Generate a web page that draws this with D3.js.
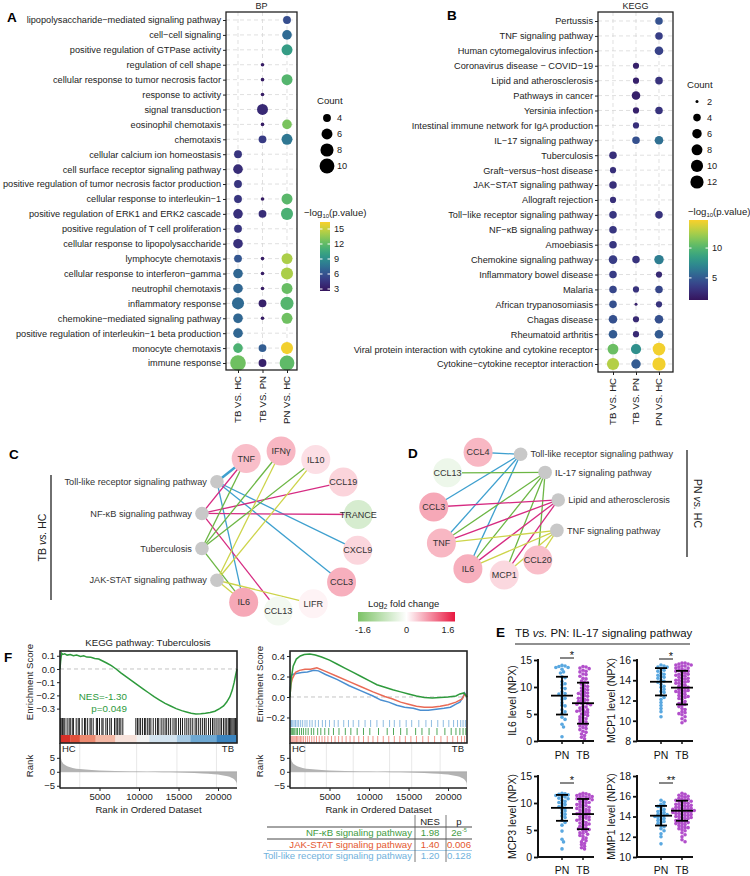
<!DOCTYPE html>
<html>
<head>
<meta charset="utf-8">
<script src="https://cdn.jsdelivr.net/npm/d3@7"></script>
<style>
  body { margin: 0; background: #fff; }
  svg { display: block; font-family: "Liberation Sans", Arial, Helvetica, sans-serif; }
</style>
</head>
<body>
<div id="fig"></div>
<script>
// Figure size
var svgWidth = 750;
var svgHeight = 876;

// ---------------- A: GO BP dot plot ----------------
var comparisons = ["TB VS. HC", "TB VS. PN", "PN VS. HC"];
var bpTerms = [
  "lipopolysaccharide\u2212mediated signaling pathway",
  "cell\u2212cell signaling",
  "positive regulation of GTPase activity",
  "regulation of cell shape",
  "cellular response to tumor necrosis factor",
  "response to activity",
  "signal transduction",
  "eosinophil chemotaxis",
  "chemotaxis",
  "cellular calcium ion homeostasis",
  "cell surface receptor signaling pathway",
  "positive regulation of tumor necrosis factor production",
  "cellular response to interleukin\u22121",
  "positive regulation of ERK1 and ERK2 cascade",
  "positive regulation of T cell proliferation",
  "cellular response to lipopolysaccharide",
  "lymphocyte chemotaxis",
  "cellular response to interferon\u2212gamma",
  "neutrophil chemotaxis",
  "inflammatory response",
  "chemokine\u2212mediated signaling pathway",
  "positive regulation of interleukin\u22121 beta production",
  "monocyte chemotaxis",
  "immune response"
];
var bpCountTBHC = [null, null, null, null, null, null, null, null, null, 4, 5, 4, 4, 5, 4, 5, 4, 5, 5, 7, 5, 5, 5, 11];
var bpCountTBPN = [null, null, null, 3, 3, 3, 6, 3, 4, null, null, null, 3, 4, null, null, 3, 3, 3, 4, 3, null, 4, 4];
var bpCountPNHC = [4, 5, 6, null, 6, null, null, 5, 6, null, null, null, 6, 7, null, null, 6, 7, 6, 8, 6, null, 7, 10];
var bpLogpTBHC = [null, null, null, null, null, null, null, null, null, 4.5, 4.0, 4.5, 4.5, 4.2, 4.5, 4.2, 6.2, 7.0, 7.0, 7.2, 7.0, 7.0, 11.3, 12.5];
var bpLogpTBPN = [null, null, null, 3.0, 3.0, 3.0, 3.8, 3.0, 4.8, null, null, null, 3.0, 4.0, null, null, 3.0, 3.0, 3.0, 3.3, 3.0, null, 6.6, 3.3];
var bpLogpPNHC = [5.8, 7.2, 9.8, null, 11.6, null, null, 12.8, 7.8, null, null, null, 11.8, 11.2, null, null, 14.2, 14.2, 12.3, 11.6, 12.5, null, 16.2, 12.0];
var bpSizeLegend = [4, 6, 8, 10];
var bpColorTicks = [3, 6, 9, 12, 15];

// ---------------- B: KEGG dot plot ----------------
var keggTerms = [
  "Pertussis",
  "TNF signaling pathway",
  "Human cytomegalovirus infection",
  "Coronavirus disease \u2212 COVID\u221219",
  "Lipid and atherosclerosis",
  "Pathways in cancer",
  "Yersinia infection",
  "Intestinal immune network for IgA production",
  "IL\u221217 signaling pathway",
  "Tuberculosis",
  "Graft\u2212versus\u2212host disease",
  "JAK\u2212STAT signaling pathway",
  "Allograft rejection",
  "Toll\u2212like receptor signaling pathway",
  "NF\u2212\u03baB signaling pathway",
  "Amoebiasis",
  "Chemokine signaling pathway",
  "Inflammatory bowel disease",
  "Malaria",
  "African trypanosomiasis",
  "Chagas disease",
  "Rheumatoid arthritis",
  "Viral protein interaction with cytokine and cytokine receptor",
  "Cytokine\u2212cytokine receptor interaction"
];
var keggCountTBHC = [null, null, null, null, null, null, null, null, null, 4, 3, 4, 3, 4, 4, 4, 5, 4, 4, 4, 5, 5, 8, 10];
var keggCountTBPN = [null, null, null, 3, 3, 5, 3, 3, 4, null, null, null, null, null, null, null, 4, null, 3, 2, 3, 3, 7, 6];
var keggCountPNHC = [4, 4, 5, null, 4, null, 4, null, 5, null, null, null, null, 4, null, null, 6, 3, 4, 3, 5, 5, 11, 12];
var keggLogpTBHC = [null, null, null, null, null, null, null, null, null, 2.8, 2.8, 2.8, 2.8, 3.2, 3.2, 3.2, 3.5, 3.5, 4.0, 4.5, 4.5, 5.0, 10.8, 12.8];
var keggLogpTBPN = [null, null, null, 2.0, 2.0, 2.0, 2.0, 2.8, 4.5, null, null, null, null, null, null, null, 3.0, null, 3.0, 2.0, 2.5, 2.5, 7.6, 5.0];
var keggLogpPNHC = [4.6, 3.6, 3.8, null, 3.0, null, 3.0, null, 6.0, null, null, null, null, 3.0, null, null, 6.7, 2.5, 4.0, 3.0, 4.5, 5.0, 14.5, 14.5];
var keggSizeLegend = [2, 4, 6, 8, 10, 12];
var keggColorTicks = [5, 10];

// ---------------- C / D: pathway-gene networks ----------------
var cGenes = ["TNF", "IFN\u03b3", "IL10", "CCL19", "TRANCE", "CXCL9", "CCL3", "LIFR", "CCL13", "IL6"];
var cGeneFC = [0.45, 0.5, 0.22, 0.3, -0.5, 0.28, 0.55, 0.08, -0.15, 0.6];
var cPathways = ["JAK-STAT signaling pathway", "Tuberculosis", "NF-\u03baB signaling pathway", "Toll-like receptor signaling pathway"];
var cEdges = [
  ["Toll-like receptor signaling pathway", "TNF"], ["Toll-like receptor signaling pathway", "IL6"],
  ["Toll-like receptor signaling pathway", "CXCL9"], ["Toll-like receptor signaling pathway", "CCL3"],
  ["NF-\u03baB signaling pathway", "TNF"], ["NF-\u03baB signaling pathway", "CCL19"],
  ["NF-\u03baB signaling pathway", "TRANCE"], ["NF-\u03baB signaling pathway", "CCL13"],
  ["Tuberculosis", "TNF"], ["Tuberculosis", "IFN\u03b3"], ["Tuberculosis", "IL10"], ["Tuberculosis", "IL6"],
  ["JAK-STAT signaling pathway", "IFN\u03b3"], ["JAK-STAT signaling pathway", "IL10"],
  ["JAK-STAT signaling pathway", "LIFR"], ["JAK-STAT signaling pathway", "IL6"]
];
var dGenes = ["CCL20", "MCP1", "IL6", "TNF", "CCL3", "CCL13", "CCL4"];
var dGeneFC = [0.45, 0.27, 0.55, 0.5, 0.6, -0.22, 0.5];
var dPathways = ["Toll-like receptor signaling pathway", "IL-17 signaling pathway", "Lipid and atherosclerosis", "TNF signaling pathway"];
var dEdges = [
  ["Toll-like receptor signaling pathway", "CCL4"], ["Toll-like receptor signaling pathway", "CCL3"],
  ["Toll-like receptor signaling pathway", "TNF"], ["Toll-like receptor signaling pathway", "IL6"],
  ["IL-17 signaling pathway", "CCL13"], ["IL-17 signaling pathway", "TNF"], ["IL-17 signaling pathway", "IL6"],
  ["IL-17 signaling pathway", "MCP1"], ["IL-17 signaling pathway", "CCL20"],
  ["Lipid and atherosclerosis", "CCL3"], ["Lipid and atherosclerosis", "TNF"],
  ["Lipid and atherosclerosis", "IL6"], ["Lipid and atherosclerosis", "MCP1"],
  ["TNF signaling pathway", "TNF"], ["TNF signaling pathway", "IL6"],
  ["TNF signaling pathway", "MCP1"], ["TNF signaling pathway", "CCL20"]
];
var fcTicks = [-1.6, 0, 1.6];

// ---------------- F: GSEA ----------------
var totalGenes = 22400;
var rankPos = [0, 60, 150, 300, 600, 1000, 1600, 2500, 4000, 6000, 8000, 10000, 12000, 14000, 16000, 18000, 19500, 20500, 21200, 21700, 22000, 22200, 22350, 22400];
var rankMetric = [9.5, 6.0, 4.5, 3.4, 2.5, 1.9, 1.4, 1.0, 0.65, 0.4, 0.22, 0.08, -0.05, -0.18, -0.35, -0.6, -0.9, -1.2, -1.6, -2.1, -2.6, -3.2, -4.0, -5.5];

var tbEsRank = [0, 80, 200, 350, 600, 900, 1300, 1700, 2100, 2600, 3000, 3400, 3900, 4400, 4900, 5400, 5900, 6500, 7100, 7700, 8400, 9100, 9800, 10500, 11200, 11900, 12600, 13300, 14000, 14700, 15400, 16000, 16600, 17200, 17800, 18400, 19000, 19600, 20200, 20700, 21100, 21500, 21800, 22050, 22250, 22400];
var tbEsVal = [0, 0.06, 0.12, 0.11, 0.115, 0.105, 0.11, 0.1, 0.105, 0.095, 0.1, 0.09, 0.088, 0.08, 0.075, 0.06, 0.045, 0.025, 0.0, -0.03, -0.06, -0.09, -0.12, -0.15, -0.18, -0.21, -0.235, -0.26, -0.28, -0.3, -0.315, -0.325, -0.335, -0.34, -0.338, -0.335, -0.33, -0.32, -0.3, -0.28, -0.25, -0.21, -0.16, -0.1, -0.04, 0];
var tbHits = [60, 150, 310, 480, 620, 900, 1150, 1300, 1550, 1700, 2050, 2300, 2450, 2800, 3100, 3250, 3500, 3800, 3950, 4200, 4600, 4750, 5000, 5300, 5450, 5800, 6000, 6300, 6500, 6900, 7100, 7300, 7500, 7700, 7950, 9600, 9800, 10000, 10200, 10450, 10700, 10850, 11100, 11300, 11500, 11800, 12100, 12350, 12500, 12800, 13050, 13300, 13500, 13750, 14000, 14300, 14550, 14700, 15000, 15250, 15500, 15800, 16050, 16300, 16550, 16800, 17100, 17300, 17550, 17800, 18050, 18300, 18500, 18800, 19050, 19300, 19500, 19750, 20000, 20250, 20450, 20700, 20900, 21100, 21300, 21450, 21600, 21750, 21900, 22050, 22200, 22300];
var tbBinEdges = [0, 1300, 2500, 4500, 7000, 9700, 11300, 14800, 16500, 19800, 22400];
var tbBinColors = ["#d62f27", "#e0503a", "#ec8a70", "#f4b9a6", "#f7e3dc", "#f2f2f2", "#d3e3ef", "#a7c9e2", "#6ea8d2", "#3a83be"];
var tbRankGrid = [2500, 9700, 14800, 19800];

var nfkbEsRank = [0, 150, 400, 800, 1300, 1800, 2500, 3200, 4000, 5000, 6000, 7000, 8000, 9000, 10000, 11000, 12000, 13000, 14000, 15000, 16000, 17000, 18000, 19000, 20000, 21000, 21500, 22000, 22400];
var nfkbEsVal = [0, 0.18, 0.3, 0.37, 0.4, 0.415, 0.42, 0.41, 0.39, 0.36, 0.32, 0.28, 0.24, 0.2, 0.16, 0.12, 0.095, 0.07, 0.05, 0.03, 0.01, -0.005, -0.01, -0.005, 0.0, 0.01, 0.03, 0.04, 0];
var jakEsRank = [0, 100, 300, 700, 1200, 1900, 2600, 3400, 4500, 6000, 7500, 9000, 10500, 12000, 13000, 14000, 15000, 16000, 17000, 18000, 19000, 20000, 21000, 21800, 22100, 22400];
var jakEsVal = [0, 0.12, 0.18, 0.24, 0.26, 0.27, 0.27, 0.285, 0.25, 0.2, 0.15, 0.1, 0.05, 0.005, -0.02, -0.05, -0.07, -0.09, -0.1, -0.1, -0.09, -0.075, -0.05, -0.02, 0.03, 0];
var tollEsRank = [0, 100, 300, 800, 1500, 2200, 3000, 3600, 4500, 6000, 7500, 9000, 10500, 11500, 12500, 13500, 14500, 15600, 16500, 17500, 18500, 19500, 20300, 21000, 21500, 21900, 22100, 22400];
var tollEsVal = [0, 0.2, 0.22, 0.23, 0.24, 0.245, 0.26, 0.255, 0.22, 0.17, 0.11, 0.06, 0.01, -0.03, -0.05, -0.08, -0.1, -0.11, -0.13, -0.13, -0.12, -0.11, -0.1, -0.07, -0.05, 0.0, 0.04, 0];
var tollHits = [80, 200, 350, 520, 700, 900, 1100, 1350, 1600, 1900, 2150, 2500, 2800, 3200, 3600, 4100, 4500, 5000, 5600, 6100, 6800, 7400, 8000, 8700, 9500, 10200, 11000, 11800, 12600, 13200, 13900, 14700, 15400, 16300, 17200, 17900, 18700, 19400, 20100, 20700, 21200, 21600, 21900, 22200];
var nfkbHits = [50, 160, 300, 420, 600, 780, 950, 1200, 1450, 1700, 2000, 2300, 2700, 3000, 3500, 3900, 4400, 4900, 5500, 6200, 7000, 7700, 8500, 9300, 10100, 11200, 12300, 13100, 14000, 14800, 15900, 16700, 17600, 18600, 19600, 20400, 21000, 21500, 21900, 22250];
var jakHits = [40, 130, 260, 380, 520, 660, 820, 980, 1150, 1320, 1500, 1700, 1950, 2200, 2450, 2750, 3050, 3350, 3700, 4050, 4400, 4800, 5250, 5700, 6150, 6600, 7100, 7600, 8100, 8700, 9300, 9900, 10500, 11100, 11800, 12500, 13200, 13900, 14600, 15300, 16000, 16800, 17500, 18300, 19100, 19900, 20600, 21200, 21700, 22100];
var multiRankGrid = [1900, 4600, 8000, 12600, 15400, 19000];

var gseaTableNames = ["NF-\u03baB signaling pathway", "JAK-STAT signaling pathway", "Toll-like receptor signaling pathway"];
var gseaTableNES = ["1.98", "1.40", "1.20"];
var gseaTableP = ["2e", "0.006", "0.128"];

// ---------------- E: scatter with mean +/- SD ----------------
var groups = ["PN", "TB"];
var il6PN = [14.0, 13.9, 13.8, 13.6, 13.6, 13.3, 12.8, 12.6, 11.9, 11.7, 11.0, 10.6, 10.4, 9.8, 9.7, 9.1, 8.8, 8.7, 8.2, 7.9, 7.7, 7.1, 6.6, 6.5, 5.8, 5.4, 5.1, 4.4, 4.0, 3.1, 2.6, 0.8];
var il6TB = [13.8, 13.7, 13.5, 13.4, 13.1, 12.9, 12.8, 12.4, 12.3, 12.0, 11.6, 11.5, 11.1, 10.9, 10.8, 10.5, 10.2, 10.1, 9.8, 9.6, 9.5, 9.2, 9.0, 8.9, 8.6, 8.4, 8.3, 8.0, 7.9, 7.6, 7.5, 7.3, 7.1, 7.0, 6.8, 6.7, 6.4, 6.3, 6.1, 5.9, 5.8, 5.6, 5.4, 5.3, 5.0, 4.9, 4.7, 4.5, 4.3, 4.1, 4.0, 3.7, 3.5, 3.4, 3.1, 2.9, 2.8, 2.5, 2.3, 2.1, 1.8, 1.6, 1.3, 1.0, 0.7, 0.4, 6.9, 7.7, 5.5, 8.8];
var mcp1PN = [15.5, 15.4, 15.3, 15.3, 15.1, 15.0, 14.9, 14.7, 14.6, 14.4, 14.3, 14.2, 14.0, 13.9, 13.8, 13.6, 13.4, 13.3, 13.1, 12.9, 12.8, 12.5, 12.3, 12.1, 11.8, 11.5, 11.2, 10.9, 10.4, 14.5];
var mcp1TB = [15.7, 15.7, 15.6, 15.6, 15.5, 15.5, 15.4, 15.3, 15.2, 15.2, 15.1, 15.0, 14.9, 14.9, 14.8, 14.7, 14.6, 14.5, 14.5, 14.4, 14.3, 14.2, 14.1, 14.0, 13.9, 13.9, 13.8, 13.7, 13.6, 13.5, 13.4, 13.3, 13.2, 13.1, 13.0, 12.9, 12.8, 12.7, 12.6, 12.5, 12.4, 12.3, 12.2, 12.1, 11.9, 11.8, 11.7, 11.5, 11.4, 11.2, 11.1, 10.9, 10.8, 10.6, 10.4, 10.2, 10.0, 9.8, 15.4, 15.0, 14.6, 14.2, 13.7, 13.3, 12.9, 12.4, 11.6, 10.7, 13.0, 14.0];
var mcp3PN = [11.8, 11.7, 11.6, 11.5, 11.4, 11.2, 11.1, 10.9, 10.8, 10.5, 10.3, 10.1, 9.9, 9.7, 9.4, 9.3, 9.0, 8.8, 8.5, 8.2, 7.9, 7.6, 7.3, 6.8, 6.4, 5.9, 4.8, 3.3, 2.8, 1.5];
var mcp3TB = [11.8, 11.7, 11.6, 11.5, 11.4, 11.3, 11.1, 11.0, 10.9, 10.8, 10.6, 10.5, 10.3, 10.1, 10.0, 9.8, 9.7, 9.5, 9.3, 9.2, 9.0, 8.8, 8.7, 8.5, 8.3, 8.2, 8.0, 7.8, 7.7, 7.5, 7.3, 7.2, 7.0, 6.8, 6.6, 6.4, 6.3, 6.1, 5.9, 5.7, 5.5, 5.3, 5.1, 4.9, 4.7, 4.5, 4.2, 4.0, 3.8, 3.5, 3.3, 3.0, 2.8, 2.5, 2.3, 2.0, 1.7, 1.5, 11.2, 10.7, 10.2, 9.6, 9.1, 8.6, 8.1, 7.4, 6.9, 6.0, 5.2, 4.4];
var mmp1PN = [15.6, 15.4, 15.2, 15.1, 15.0, 14.9, 14.7, 14.6, 14.5, 14.4, 14.3, 14.2, 14.1, 14.0, 14.0, 13.9, 13.8, 13.7, 13.6, 13.5, 13.4, 13.3, 13.1, 13.0, 12.8, 12.6, 12.3, 12.0, 11.3, 14.2];
var mmp1TB = [16.3, 16.2, 16.1, 16.0, 15.9, 15.8, 15.7, 15.6, 15.6, 15.5, 15.4, 15.3, 15.2, 15.2, 15.1, 15.0, 14.9, 14.9, 14.8, 14.7, 14.7, 14.6, 14.5, 14.5, 14.4, 14.3, 14.3, 14.2, 14.1, 14.0, 14.0, 13.9, 13.8, 13.7, 13.6, 13.5, 13.4, 13.3, 13.2, 13.1, 13.0, 12.9, 12.8, 12.6, 12.4, 12.2, 12.0, 11.7, 11.5, 15.7, 15.3, 15.0, 14.8, 14.6, 14.4, 14.2, 13.9, 13.6, 13.3, 12.7, 16.0, 15.5, 15.1, 14.7, 14.4, 14.1, 13.8, 13.4, 12.9, 14.6];
// mean and SD per group [PN, TB]
var il6Mean = [8.4, 7.0], il6Sd = [3.5, 3.8];
var mcp1Mean = [13.85, 13.27], mcp1Sd = [1.35, 1.66];
var mcp3Mean = [9.1, 7.95], mcp3Sd = [2.4, 2.8];
var mmp1Mean = [14.08, 14.57], mmp1Sd = [0.97, 0.99];

// ================= drawing =================
var svg = d3.select("#fig").append("svg")
  .attr("width", svgWidth)
  .attr("height", svgHeight);

var dotPalette = d3.interpolateRgbBasis(["#35155c", "#3b3b8b", "#2f6b96", "#2b9a8c", "#52b86b", "#a8d24a", "#f9d02b"]);
var defs = svg.append("defs");

function panelLetter(t, x, y) {
  svg.append("text").attr("x", x).attr("y", y)
    .attr("font-size", 13.5).attr("font-weight", "bold").attr("fill", "#000").text(t);
}

function dotPlot(cfg) {
  var g = svg.append("g");
  var y = d3.scalePoint().domain(cfg.terms).range([cfg.rowTop, cfg.rowBottom]);
  var x = d3.scalePoint().domain(comparisons).range([cfg.colLeft, cfg.colRight]);
  var color = d3.scaleSequential(dotPalette).domain(cfg.colorDomain);
  var size = d3.scaleSqrt().domain([0, cfg.countDomain[1] - cfg.countDomain[0]]).range(cfg.radius);
  var rad = function(c) { return size(c - cfg.countDomain[0]); };
  var L = cfg.box[0], R = cfg.box[1], T = cfg.box[2], B = cfg.box[3];

  // dashed grid
  g.selectAll(".hg").data(cfg.terms).enter().append("line")
    .attr("x1", L).attr("x2", R).attr("y1", d => y(d)).attr("y2", d => y(d))
    .attr("stroke", "#d2d2d2").attr("stroke-width", 0.7).attr("stroke-dasharray", "4,3");
  g.selectAll(".vg").data(comparisons).enter().append("line")
    .attr("y1", T).attr("y2", B).attr("x1", d => x(d)).attr("x2", d => x(d))
    .attr("stroke", "#d2d2d2").attr("stroke-width", 0.7).attr("stroke-dasharray", "4,3");

  var pts = [];
  cfg.terms.forEach(function(t, i) {
    cfg.counts.forEach(function(arr, j) {
      if (arr[i] != null) pts.push({ term: t, comp: comparisons[j], count: arr[i], logp: cfg.logp[j][i] });
    });
  });
  g.selectAll("circle.dot").data(pts).enter().append("circle")
    .attr("class", "dot")
    .attr("cx", d => x(d.comp)).attr("cy", d => y(d.term))
    .attr("r", d => rad(d.count))
    .attr("fill", d => color(d.logp));

  g.append("rect").attr("x", L).attr("y", T).attr("width", R - L).attr("height", B - T)
    .attr("fill", "none").attr("stroke", "#222").attr("stroke-width", 1.3);

  // y axis labels
  var ya = g.append("g").attr("transform", `translate(${L},0)`)
    .call(d3.axisLeft(y).tickSize(3).tickPadding(2));
  ya.select(".domain").remove();
  ya.attr("font-family", null).attr("font-size", 9.2).style("color", "#222");

  // x axis rotated labels
  var xa = g.append("g").attr("transform", `translate(0,${B})`)
    .call(d3.axisBottom(x).tickSize(3).tickFormat(""));
  xa.select(".domain").remove();
  xa.style("color", "#222");
  g.selectAll(".xl").data(comparisons).enter().append("text")
    .attr("transform", d => `translate(${x(d) + 3.4},${B + 6}) rotate(-90)`)
    .attr("text-anchor", "end").attr("font-size", 9.6).attr("fill", "#222").text(d => d);

  g.append("text").attr("x", (L + R) / 2).attr("y", T - 3.5).attr("text-anchor", "middle")
    .attr("font-size", 9).attr("fill", "#222").text(cfg.title);

  // size legend
  var sl = cfg.sizeLegend;
  g.append("text").attr("x", sl.x - 10).attr("y", sl.titleY).attr("font-size", 9.6).attr("fill", "#222").text("Count");
  var ly = d3.scalePoint().domain(sl.values).range([sl.y0, sl.y1]);
  g.selectAll(".lc").data(sl.values).enter().append("circle")
    .attr("cx", sl.x).attr("cy", d => ly(d)).attr("r", d => rad(d)).attr("fill", "#000");
  g.selectAll(".lt").data(sl.values).enter().append("text")
    .attr("x", sl.x + 10).attr("y", d => ly(d) + 3.3).attr("font-size", 9.2).attr("fill", "#222").text(d => d);

  // colour bar
  var cb = cfg.colorBar;
  var gid = "grad" + cfg.title;
  var grad = defs.append("linearGradient").attr("id", gid).attr("x1", 0).attr("x2", 0).attr("y1", 1).attr("y2", 0);
  d3.range(0, 1.0001, 0.05).forEach(function(t) {
    grad.append("stop").attr("offset", t).attr("stop-color", dotPalette(t));
  });
  var ct = g.append("text").attr("x", cb.titleX).attr("y", cb.titleY).attr("font-size", 9.6).attr("fill", "#222");
  ct.append("tspan").text("\u2212log");
  ct.append("tspan").attr("font-size", 6).attr("dy", 2).text("10");
  ct.append("tspan").attr("dy", -2).text("(p.value)");
  g.append("rect").attr("x", cb.x).attr("y", cb.y0).attr("width", cb.w).attr("height", cb.y1 - cb.y0)
    .attr("fill", `url(#${gid})`);
  var cy = d3.scaleLinear().domain(cfg.colorDomain).range([cb.y1, cb.y0]);
  g.selectAll(".ctk").data(cb.ticks).enter().append("line")
    .attr("x1", cb.x).attr("x2", cb.x + 2.5).attr("y1", d => cy(d)).attr("y2", d => cy(d)).attr("stroke", "#fff");
  g.selectAll(".ctk2").data(cb.ticks).enter().append("line")
    .attr("x1", cb.x + cb.w - 2.5).attr("x2", cb.x + cb.w).attr("y1", d => cy(d)).attr("y2", d => cy(d)).attr("stroke", "#fff");
  g.selectAll(".ctl").data(cb.ticks).enter().append("text")
    .attr("x", cb.x + cb.w + 4).attr("y", d => cy(d) + 3.3).attr("font-size", 9.2).attr("fill", "#222").text(d => d);
}

// ---- A ----
panelLetter("A", 7, 22);
dotPlot({
  title: "BP", terms: bpTerms,
  counts: [bpCountTBHC, bpCountTBPN, bpCountPNHC], logp: [bpLogpTBHC, bpLogpTBPN, bpLogpPNHC],
  rowTop: 20, rowBottom: 363, colLeft: 238, colRight: 287,
  box: [226, 297, 12, 370],
  colorDomain: [2.6, 16.4], countDomain: [3, 11], radius: [1.8, 7.8],
  sizeLegend: { x: 327, titleY: 104, y0: 118, y1: 166, values: bpSizeLegend },
  colorBar: { titleX: 304, titleY: 216, x: 320, w: 10, y0: 222, y1: 291, ticks: bpColorTicks }
});

// ---- B ----
panelLetter("B", 447, 20);
dotPlot({
  title: "KEGG", terms: keggTerms,
  counts: [keggCountTBHC, keggCountTBPN, keggCountPNHC], logp: [keggLogpTBHC, keggLogpTBPN, keggLogpPNHC],
  rowTop: 21, rowBottom: 364, colLeft: 613, colRight: 659,
  box: [598, 673, 12, 372],
  colorDomain: [1.3, 14.7], countDomain: [2, 12], radius: [1.5, 6.6],
  sizeLegend: { x: 697, titleY: 88, y0: 101.5, y1: 182, values: keggSizeLegend },
  colorBar: { titleX: 688, titleY: 215, x: 689, w: 19, y0: 220, y1: 300, ticks: keggColorTicks }
});

// ---------------- networks ----------------
var fcColor = d3.scaleLinear().domain([-1.6, 0, 1.6]).range(["#7cc266", "#ffffff", "#e8173f"]);
var edgeColorC = {
  "Toll-like receptor signaling pathway": "#3fa0cf", "NF-\u03baB signaling pathway": "#d62b82",
  "Tuberculosis": "#6cb644", "JAK-STAT signaling pathway": "#cdd44a"
};
var edgeColorD = {
  "Toll-like receptor signaling pathway": "#3fa0cf", "IL-17 signaling pathway": "#6cb644",
  "Lipid and atherosclerosis": "#d62b82", "TNF signaling pathway": "#cdd44a"
};

function network(cfg) {
  var g = svg.append("g");
  var geneAngle = d3.scaleLinear().domain([0, cfg.genes.length - 1]).range(cfg.geneArc);
  var pathAngle = d3.scaleLinear().domain([0, cfg.pathways.length - 1]).range(cfg.pathArc);
  var pos = {};
  function polar(a) {
    var rad = a * Math.PI / 180;
    return [cfg.center[0] + cfg.radius * Math.cos(rad), cfg.center[1] + cfg.radius * Math.sin(rad)];
  }
  cfg.genes.forEach((n, i) => { pos[n] = polar(geneAngle(i)); });
  cfg.pathways.forEach((n, i) => { pos[n] = polar(pathAngle(i)); });

  g.selectAll(".edge").data(cfg.edges).enter().append("line")
    .attr("x1", d => pos[d[0]][0]).attr("y1", d => pos[d[0]][1])
    .attr("x2", d => pos[d[1]][0]).attr("y2", d => pos[d[1]][1])
    .attr("stroke", d => cfg.edgeColor[d[0]])
    .attr("stroke-width", d => (d[0] === "Toll-like receptor signaling pathway" && d[1] === "TNF" && cfg.thickToll) ? 2.4 : 1.3);

  g.selectAll(".gn").data(cfg.genes).enter().append("circle")
    .attr("cx", d => pos[d][0]).attr("cy", d => pos[d][1]).attr("r", 14.5)
    .attr("fill", (d, i) => fcColor(cfg.fc[i]));
  g.selectAll(".gl").data(cfg.genes).enter().append("text")
    .attr("x", d => pos[d][0]).attr("y", d => pos[d][1] + 3.2).attr("text-anchor", "middle")
    .attr("font-size", 9).attr("fill", "#333").text(d => d);

  g.selectAll(".pn").data(cfg.pathways).enter().append("circle")
    .attr("cx", d => pos[d][0]).attr("cy", d => pos[d][1]).attr("r", 6.8).attr("fill", "#c8c8c8");
  g.selectAll(".pl").data(cfg.pathways).enter().append("text")
    .attr("x", d => pos[d][0] + cfg.labelSide * 10).attr("y", d => pos[d][1] + 3.2)
    .attr("text-anchor", cfg.labelSide < 0 ? "end" : "start")
    .attr("font-size", 9.2).attr("fill", "#333").text(d => d);

  // group bracket and label
  g.append("line").attr("x1", cfg.bracketX).attr("x2", cfg.bracketX)
    .attr("y1", cfg.bracketY[0]).attr("y2", cfg.bracketY[1]).attr("stroke", "#222").attr("stroke-width", 1.3);
  var lab = g.append("text").attr("text-anchor", "middle").attr("font-size", 10.5).attr("fill", "#222")
    .attr("transform", `translate(${cfg.groupLabelX},${(cfg.bracketY[0] + cfg.bracketY[1]) / 2}) rotate(${cfg.groupRotate})`);
  lab.append("tspan").text(cfg.groupLabel[0] + " ");
  lab.append("tspan").attr("font-style", "italic").text("vs.");
  lab.append("tspan").text(" " + cfg.groupLabel[1]);
}

panelLetter("C", 9, 459);
network({
  genes: cGenes, fc: cGeneFC, pathways: cPathways, edges: cEdges, edgeColor: edgeColorC,
  center: [280, 531], radius: 80, geneArc: [-115, 117], pathArc: [142, 218],
  labelSide: -1, thickToll: true,
  bracketX: 51, bracketY: [475, 600], groupLabelX: 46, groupRotate: -90, groupLabel: ["TB", "HC"]
});

panelLetter("D", 408, 458);
network({
  genes: dGenes, fc: dGeneFC, pathways: dPathways, edges: dEdges, edgeColor: edgeColorD,
  center: [496.5, 512.5], radius: 63, geneArc: [49, 253], pathArc: [-67.5, 16.5],
  labelSide: 1, thickToll: false,
  bracketX: 687, bracketY: [450, 557], groupLabelX: 694, groupRotate: 90, groupLabel: ["PN", "HC"]
});

// log2 fold change legend
(function() {
  var g = svg.append("g");
  var lx = d3.scaleLinear().domain([-1.6, 1.6]).range([358, 455]);
  var grad = defs.append("linearGradient").attr("id", "fcgrad");
  d3.range(-1.6, 1.6001, 0.2).forEach(function(v) {
    grad.append("stop").attr("offset", (v + 1.6) / 3.2).attr("stop-color", fcColor(v));
  });
  var t = g.append("text").attr("x", 368).attr("y", 607).attr("font-size", 9.5).attr("fill", "#222");
  t.append("tspan").text("Log");
  t.append("tspan").attr("font-size", 6.5).attr("dy", 2).text("2");
  t.append("tspan").attr("dy", -2).text(" fold change");
  g.append("rect").attr("x", lx(-1.6)).attr("y", 612).attr("width", lx(1.6) - lx(-1.6)).attr("height", 9.5)
    .attr("fill", "url(#fcgrad)");
  g.selectAll(".ft").data(fcTicks).enter().append("text")
    .attr("x", d => lx(d) + (d < 0 ? 5 : d > 0 ? -7 : 0)).attr("y", 633).attr("text-anchor", "middle")
    .attr("font-size", 9.2).attr("fill", "#222").text(d => d === 0 ? "0" : d);
})();

// ---------------- F: GSEA ----------------
function gsea(cfg) {
  var g = svg.append("g");
  var x = d3.scaleLinear().domain([0, totalGenes]).range([cfg.x0, cfg.x1]);
  var yES = d3.scaleLinear().domain(cfg.esDomain).range([718, 651]);
  var yRank = d3.scaleLinear().domain([-5.8, 10.3]).range([788, 743]);

  // rank metric panel
  g.selectAll(".rg").data(cfg.rankGrid).enter().append("line")
    .attr("x1", d => x(d)).attr("x2", d => x(d)).attr("y1", 744).attr("y2", 788)
    .attr("stroke", "#e2e2e2").attr("stroke-width", 0.8);
  var area = d3.area().x((d, i) => x(rankPos[i])).y0(yRank(0)).y1(d => yRank(d)).curve(d3.curveMonotoneX);
  g.append("path").datum(rankMetric).attr("d", area).attr("fill", "#b3b3b3");
  g.append("line").attr("x1", cfg.x0).attr("x2", cfg.x1).attr("y1", yRank(0)).attr("y2", yRank(0))
    .attr("stroke", "#a0a0a0").attr("stroke-width", 0.6);
  var ra = g.append("g").attr("transform", `translate(${cfg.x0},0)`)
    .call(d3.axisLeft(yRank).tickValues([-5, 0, 5]).tickSize(3).tickPadding(2));
  ra.select(".domain").remove();
  ra.attr("font-family", null).attr("font-size", 9.5).style("color", "#222");
  g.append("line").attr("x1", cfg.x0).attr("x2", cfg.x0).attr("y1", 743).attr("y2", 788.5).attr("stroke", "#222").attr("stroke-width", 1.5);
  var xa = g.append("g").attr("transform", "translate(0,788)")
    .call(d3.axisBottom(x).tickValues([5000, 10000, 15000, 20000]).tickSize(3).tickPadding(2).tickFormat(d3.format("d")));
  xa.select(".domain").remove();
  xa.attr("font-family", null).attr("font-size", 9.5).style("color", "#222");
  g.append("line").attr("x1", cfg.x0).attr("x2", cfg.x1).attr("y1", 788).attr("y2", 788).attr("stroke", "#222").attr("stroke-width", 1.5);
  g.append("text").attr("x", (cfg.x0 + cfg.x1) / 2).attr("y", 813).attr("text-anchor", "middle")
    .attr("font-size", 9.6).attr("fill", "#222").text("Rank in Ordered Dataset");
  g.append("text").attr("transform", `translate(${cfg.x0 - 27},766) rotate(-90)`).attr("text-anchor", "middle")
    .attr("font-size", 9.6).attr("fill", "#222").text("Rank");
  g.append("text").attr("x", cfg.x0 + 2).attr("y", 752).attr("font-size", 9.5).attr("fill", "#222").text("HC");
  g.append("text").attr("x", cfg.x1 - 3).attr("y", 752).attr("text-anchor", "end").attr("font-size", 9.5).attr("fill", "#222").text("TB");

  // colour bins / hits
  if (cfg.bins) {
    g.selectAll(".bin").data(cfg.bins.colors).enter().append("rect")
      .attr("x", (d, i) => x(cfg.bins.edges[i])).attr("width", (d, i) => x(cfg.bins.edges[i + 1]) - x(cfg.bins.edges[i]) + 0.3)
      .attr("y", 735).attr("height", 8).attr("fill", d => d);
  }
  cfg.hits.forEach(function(h) {
    g.selectAll(null).data(h.ranks).enter().append("line")
      .attr("x1", d => x(d)).attr("x2", d => x(d)).attr("y1", h.y[0]).attr("y2", h.y[1])
      .attr("stroke", h.color).attr("stroke-width", h.width);
  });

  // ES curves
  g.append("line").attr("x1", cfg.x0).attr("x2", cfg.x1).attr("y1", yES(0)).attr("y2", yES(0))
    .attr("stroke", "#bdbdbd").attr("stroke-dasharray", "4,3").attr("stroke-width", 0.9);
  cfg.curves.forEach(function(c) {
    var line = d3.line().x((d, i) => x(c.rank[i])).y(d => yES(d));
    g.append("path").datum(c.es).attr("d", line).attr("fill", "none").attr("stroke", c.color).attr("stroke-width", 1.5);
  });
  var ea = g.append("g").attr("transform", `translate(${cfg.x0},0)`)
    .call(d3.axisLeft(yES).tickValues(cfg.esTicks).tickSize(3).tickPadding(2).tickFormat(d3.format(".1f")));
  ea.select(".domain").remove();
  ea.attr("font-family", null).attr("font-size", 9.5).style("color", "#222");
  g.append("text").attr("transform", `translate(${cfg.x0 - 27},${cfg.esLabelY}) rotate(-90)`).attr("text-anchor", "middle")
    .attr("font-size", 9.6).attr("fill", "#222").text("Enrichment Score");

  g.append("rect").attr("x", cfg.x0).attr("y", 651).attr("width", cfg.x1 - cfg.x0).attr("height", 92)
    .attr("fill", "none").attr("stroke", "#222").attr("stroke-width", 1.6);
  return g;
}

panelLetter("F", 4, 662);
var gLeft = gsea({
  x0: 60, x1: 237, esDomain: [-0.371, 0.136], esTicks: [-0.3, -0.2, -0.1, 0, 0.1], esLabelY: 682,
  rankGrid: tbRankGrid,
  bins: { edges: tbBinEdges, colors: tbBinColors },
  hits: [{ ranks: tbHits, y: [718, 735], color: "#000", width: 0.9 }],
  curves: [{ rank: tbEsRank, es: tbEsVal, color: "#2e9a3c" }]
});
gLeft.append("text").attr("x", 148).attr("y", 646).attr("text-anchor", "middle")
  .attr("font-size", 9.6).attr("fill", "#222").text("KEGG pathway: Tuberculosis");
gLeft.append("text").attr("x", 127).attr("y", 700).attr("text-anchor", "end")
  .attr("font-size", 9.8).attr("fill", "#2e9a3c").text("NES=-1.30");
gLeft.append("text").attr("x", 127).attr("y", 712).attr("text-anchor", "end")
  .attr("font-size", 9.8).attr("fill", "#2e9a3c").text("p=0.049");

gsea({
  x0: 290, x1: 467, esDomain: [-0.205, 0.449], esTicks: [-0.2, 0, 0.2, 0.4], esLabelY: 684,
  rankGrid: multiRankGrid, bins: null,
  hits: [
    { ranks: tollHits, y: [720, 727], color: "#83b6df", width: 0.9 },
    { ranks: nfkbHits, y: [728, 735], color: "#3e9e48", width: 0.9 },
    { ranks: jakHits, y: [736, 743], color: "#ef8b7e", width: 0.9 }
  ],
  curves: [
    { rank: tollEsRank, es: tollEsVal, color: "#4a8ed0" },
    { rank: jakEsRank, es: jakEsVal, color: "#e96b56" },
    { rank: nfkbEsRank, es: nfkbEsVal, color: "#2e9a3c" }
  ]
});

// GSEA table
(function() {
  var g = svg.append("g");
  var tableColors = ["#3f9b3f", "#e4572e", "#6fb1dc"];
  var rowY = d3.scalePoint().domain(gseaTableNames).range([836, 859]);
  g.append("text").attr("x", 430).attr("y", 825).attr("text-anchor", "middle").attr("font-size", 9.6).attr("fill", "#222").text("NES");
  g.append("text").attr("x", 459).attr("y", 825).attr("text-anchor", "middle").attr("font-size", 9.6).attr("fill", "#222").text("p");
  [[827, "#333"], [839, "#333"], [850.5, "#9cc7e6"]].forEach(function(l) {
    g.append("line").attr("x1", 267).attr("x2", 472).attr("y1", l[0]).attr("y2", l[0]).attr("stroke", l[1]).attr("stroke-width", 0.9);
  });
  [415, 446].forEach(function(vx) {
    g.append("line").attr("x1", vx).attr("x2", vx).attr("y1", 815).attr("y2", 862).attr("stroke", "#555").attr("stroke-width", 0.8);
  });
  gseaTableNames.forEach(function(n, i) {
    var yy = rowY(n);
    g.append("text").attr("x", 412).attr("y", yy).attr("text-anchor", "end").attr("font-size", 9.6).attr("fill", tableColors[i]).text(n);
    g.append("text").attr("x", 430).attr("y", yy).attr("text-anchor", "middle").attr("font-size", 9.6).attr("fill", tableColors[i]).text(gseaTableNES[i]);
    var pt = g.append("text").attr("x", 459).attr("y", yy).attr("text-anchor", "middle").attr("font-size", 9.6).attr("fill", tableColors[i]);
    pt.append("tspan").text(gseaTableP[i]);
    if (i === 0) pt.append("tspan").attr("font-size", 5.5).attr("dy", -4).text("-5");
  });
})();

// ---------------- E ----------------
panelLetter("E", 496, 637);
(function() {
  var t = svg.append("text").attr("x", 515).attr("y", 637).attr("font-size", 11.4).attr("fill", "#111");
  t.append("tspan").text("TB ");
  t.append("tspan").attr("font-style", "italic").text("vs.");
  t.append("tspan").text(" PN: IL-17 signaling pathway");
  svg.append("line").attr("x1", 515).attr("x2", 690).attr("y1", 644).attr("y2", 644).attr("stroke", "#222").attr("stroke-width", 1.2);
})();

function swarm(vals, y, cx, r) {
  var placed = [];
  return vals.slice().sort(d3.descending).map(function(v) {
    var py = y(v), px = cx;
    for (var k = 0; k < 80; k++) {
      px = cx + (k % 2 ? 1 : -1) * Math.ceil(k / 2) * r * 0.85;
      var hit = placed.some(p => (p[0] - px) * (p[0] - px) + (p[1] - py) * (p[1] - py) < (r * 1.5) * (r * 1.5));
      if (!hit) break;
    }
    placed.push([px, py]);
    return [px, py];
  });
}

function scatterPlot(cfg) {
  var g = svg.append("g");
  var x = d3.scalePoint().domain(groups).range(cfg.xRange);
  var y = d3.scaleLinear().domain(cfg.domain).range([cfg.yBottom, cfg.yTop]);
  var r = 1.8;
  var cols = ["#5aa8e0", "#b24fcb"];
  [cfg.pn, cfg.tb].forEach(function(vals, gi) {
    var pts = swarm(vals, y, x(groups[gi]), r);
    g.selectAll(null).data(pts).enter().append("circle")
      .attr("cx", d => d[0]).attr("cy", d => d[1]).attr("r", r).attr("fill", cols[gi]);
  });
  // mean +/- SD
  groups.forEach(function(gr, i) {
    var cx = x(gr), m = cfg.mean[i], s = cfg.sd[i];
    g.append("line").attr("x1", cx).attr("x2", cx).attr("y1", y(m - s)).attr("y2", y(m + s)).attr("stroke", "#000").attr("stroke-width", 1.8);
    g.append("line").attr("x1", cx - 11).attr("x2", cx + 11).attr("y1", y(m)).attr("y2", y(m)).attr("stroke", "#000").attr("stroke-width", 1.8);
    [m - s, m + s].forEach(function(v) {
      g.append("line").attr("x1", cx - 6).attr("x2", cx + 6).attr("y1", y(v)).attr("y2", y(v)).attr("stroke", "#000").attr("stroke-width", 1.8);
    });
  });
  var ya = g.append("g").attr("transform", `translate(${cfg.axisX},0)`)
    .call(d3.axisLeft(y).tickValues(cfg.ticks).tickSize(4).tickPadding(2));
  ya.select(".domain").remove();
  ya.attr("font-family", null).attr("font-size", 10.5).style("color", "#111");
  ya.selectAll(".tick line").attr("stroke-width", 1.8);
  g.append("line").attr("x1", cfg.axisX).attr("x2", cfg.axisX).attr("y1", cfg.yTop - 1).attr("y2", cfg.yBottom + 1)
    .attr("stroke", "#111").attr("stroke-width", 2);
  g.append("line").attr("x1", cfg.axisX - 1).attr("x2", cfg.axisX + 56).attr("y1", cfg.yBottom).attr("y2", cfg.yBottom)
    .attr("stroke", "#111").attr("stroke-width", 2);
  g.selectAll(".xt").data(groups).enter().append("line")
    .attr("x1", d => x(d)).attr("x2", d => x(d)).attr("y1", cfg.yBottom).attr("y2", cfg.yBottom + 3)
    .attr("stroke", "#111").attr("stroke-width", 1.5);
  g.selectAll(".xl").data(groups).enter().append("text")
    .attr("x", d => x(d)).attr("y", cfg.yBottom + cfg.xLabelDy).attr("text-anchor", "middle")
    .attr("font-size", 10.5).attr("fill", "#111").text(d => d);
  g.append("text").attr("transform", `translate(${cfg.axisX - 22},${(cfg.yTop + cfg.yBottom) / 2}) rotate(-90)`)
    .attr("text-anchor", "middle").attr("font-size", 10.5).attr("fill", "#111").text(cfg.label);
  // significance
  var sx0 = x("PN") - 2, sx1 = x("TB") - 9;
  g.append("line").attr("x1", sx0).attr("x2", sx1).attr("y1", cfg.sigY).attr("y2", cfg.sigY).attr("stroke", "#111").attr("stroke-width", 1);
  g.append("text").attr("x", x("TB") - 11).attr("y", cfg.sigY + 1).attr("text-anchor", "middle")
    .attr("font-size", 11).attr("fill", "#111").text(cfg.sig);
}

scatterPlot({ label: "IL6 level (NPX)", pn: il6PN, tb: il6TB, mean: il6Mean, sd: il6Sd,
  domain: [0, 15], ticks: [0, 5, 10, 15], axisX: 538, xRange: [562, 583], yTop: 660, yBottom: 741,
  xLabelDy: 18, sigY: 658, sig: "*" });
scatterPlot({ label: "MCP1 level (NPX)", pn: mcp1PN, tb: mcp1TB, mean: mcp1Mean, sd: mcp1Sd,
  domain: [8, 16], ticks: [8, 10, 12, 14, 16], axisX: 637, xRange: [661, 682], yTop: 660, yBottom: 741,
  xLabelDy: 18, sigY: 659, sig: "*" });
scatterPlot({ label: "MCP3 level (NPX)", pn: mcp3PN, tb: mcp3TB, mean: mcp3Mean, sd: mcp3Sd,
  domain: [0, 15], ticks: [0, 5, 10, 15], axisX: 538, xRange: [562, 583], yTop: 776, yBottom: 857,
  xLabelDy: 17, sigY: 783, sig: "*" });
scatterPlot({ label: "MMP1 level (NPX)", pn: mmp1PN, tb: mmp1TB, mean: mmp1Mean, sd: mmp1Sd,
  domain: [10, 18], ticks: [10, 12, 14, 16, 18], axisX: 637, xRange: [661, 682], yTop: 776, yBottom: 857,
  xLabelDy: 17, sigY: 783, sig: "**" });
</script>
</body>
</html>
